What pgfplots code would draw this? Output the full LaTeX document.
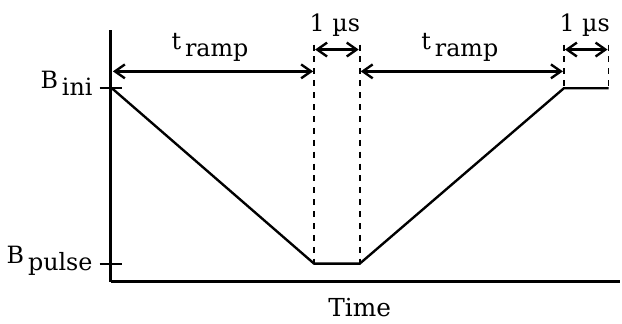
\documentclass[border=0pt]{standalone}
\usepackage{fontspec}
\setmainfont{DejaVu Serif}
\usepackage{pgfplots}
\pgfplotsset{compat=1.18}
\usetikzlibrary{arrows.meta}

\newcommand{\sub}[2]{#1\hspace{2pt}\raisebox{-3.5pt}{#2}}

\begin{document}
\begin{tikzpicture}
        \begin{axis}[
        scale only axis,
        width=257pt,
        height=127pt,
        xmin=108, xmax=622,
        ymin=42, ymax=296,
        axis lines=left,
        axis line style={-, line width=1.6pt},
        clip=false,
        xtick=\empty,
        ytick={60,237},
        yticklabels={\sub{B}{pulse},\sub{B}{ini}},
        tick align=center,
        major tick length=11.5pt,
        ytick style={line width=1.1pt, black},
        yticklabel style={anchor=base east, font=\fontsize{12}{14}\selectfont},
        ]
% ramp profile
\addplot[black, line width=1.2pt, mark=none] coordinates {(109,237) (313,60) (359,60) (565,237) (610,237)};
% dashed guides
\addplot[black, line width=0.9pt, dashed, mark=none] coordinates {(313,281) (313,60)};
\addplot[black, line width=0.9pt, dashed, mark=none] coordinates {(359,281) (359,60)};
\addplot[black, line width=0.9pt, dashed, mark=none] coordinates {(565,281) (565,237)};
\addplot[black, line width=0.9pt, dashed, mark=none] coordinates {(610,281) (610,237)};
% interval arrows
\addplot[black, line width=1.2pt, {Straight Barb[length=5pt,width=7pt]}-{Straight Barb[length=5pt,width=7pt]}] coordinates {(110,254) (312,254)};
\addplot[black, line width=1.2pt, {Straight Barb[length=5pt,width=7pt]}-{Straight Barb[length=5pt,width=7pt]}] coordinates {(360,254) (564,254)};
\addplot[black, line width=1.2pt, {Straight Barb[length=5pt,width=7pt]}-{Straight Barb[length=5pt,width=7pt]}] coordinates {(314,276) (358,276)};
\addplot[black, line width=1.2pt, {Straight Barb[length=5pt,width=7pt]}-{Straight Barb[length=5pt,width=7pt]}] coordinates {(566,276) (609,276)};
% labels
\node[anchor=base, font=\fontsize{12}{14}\selectfont] at (axis cs:208,276) {\sub{t}{ramp}};
\node[anchor=base, font=\fontsize{12}{14}\selectfont] at (axis cs:460,276) {\sub{t}{ramp}};
\node[anchor=base, font=\fontsize{12}{14}\selectfont] at (axis cs:334,294) {1 µs};
\node[anchor=base, font=\fontsize{12}{14}\selectfont] at (axis cs:586,294) {1 µs};
\node[anchor=base, font=\fontsize{12.5}{15}\selectfont] at (axis cs:359,7) {Time};
% page frame
\path (axis cs:0,0) rectangle (axis cs:622,326);
\end{axis}
\end{tikzpicture}
\end{document}
